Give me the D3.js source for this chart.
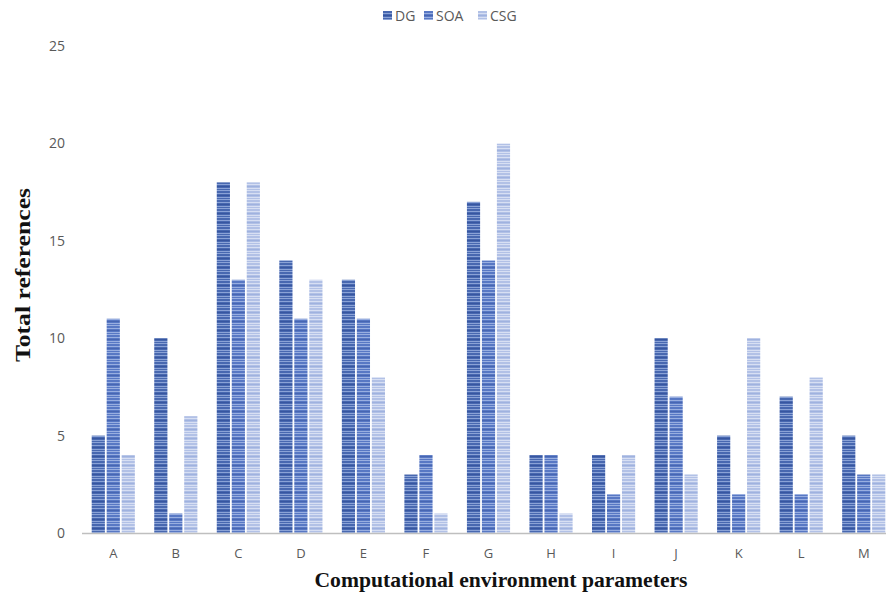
<!DOCTYPE html>
<html><head><meta charset="utf-8">
<script src="https://cdn.jsdelivr.net/npm/d3@7"></script>
<style>body{margin:0;background:#fff}svg{display:block}</style>
</head><body>
<script>
const categories = ["A","B","C","D","E","F","G","H","I","J","K","L","M"];
const seriesNames = ["DG","SOA","CSG"];
const DG  = [5,10,18,14,13,3,17,4,4,10,5,7,5];
const SOA = [11,1,13,11,11,4,14,4,2,7,2,2,3];
const CSG = [4,6,18,13,8,1,20,1,4,3,10,8,3];
const yTicks = [0,5,10,15,20,25];
const seriesValues = [DG, SOA, CSG];

const W = 886, H = 593;
const svg = d3.select("body").append("svg").attr("width", W).attr("height", H);

const colors = [
  {base:"#4868b0", light:"#8aa2d6", dark:"#3756a0"},
  {base:"#5878c4", light:"#98aee0", dark:"#4766b2"},
  {base:"#b2c1e6", light:"#d7dff3", dark:"#9fb2df"}
];
const defs = svg.append("defs");
colors.forEach((c,i)=>{
  const p = defs.append("pattern").attr("id","pat"+i).attr("patternUnits","userSpaceOnUse")
    .attr("width",20).attr("height",9);
  p.append("rect").attr("width",20).attr("height",9).attr("fill",c.base);
  p.append("rect").attr("y",1).attr("width",20).attr("height",1).attr("fill",c.light);
  p.append("rect").attr("y",4).attr("width",20).attr("height",1).attr("fill",c.light);
  p.append("rect").attr("y",6).attr("width",20).attr("height",1).attr("fill",c.dark);
  p.append("rect").attr("y",8).attr("width",20).attr("height",1).attr("fill",c.light);
});

const x = d3.scaleBand().domain(categories).range([82, 895]).paddingInner(0.31).paddingOuter(0.155);
const x1 = d3.scaleBand().domain(seriesNames).range([0, x.bandwidth()]).paddingInner(0.12);
const y = d3.scaleLinear().domain([0,25]).range([533, 46]);

// y tick labels
svg.append("g").selectAll("text").data(yTicks).join("text")
  .attr("x", 65).attr("y", d=>y(d)).attr("dy","0.35em").attr("text-anchor","end")
  .attr("font-family","'Open Sans', sans-serif").attr("font-size",14).attr("fill","#595959")
  .text(d=>d);

// bars
const g = svg.append("g");
categories.forEach((cat,ci)=>{
  seriesNames.forEach((s,si)=>{
    const v = seriesValues[si][ci];
    g.append("rect")
      .attr("x", x(cat)+x1(s)).attr("width", x1.bandwidth())
      .attr("y", y(v)).attr("height", y(0)-y(v))
      .attr("fill", "url(#pat"+si+")");
  });
});

// x axis line
svg.append("line").attr("x1",82).attr("x2",886).attr("y1",533.5).attr("y2",533.5)
  .attr("stroke","#bfbfbf").attr("stroke-width",1.5);

// x labels
svg.append("g").selectAll("text").data(categories).join("text")
  .attr("x", d=>x(d)+x.bandwidth()/2).attr("y", 553).attr("dy","0.35em").attr("text-anchor","middle")
  .attr("font-family","'Open Sans', sans-serif").attr("font-size",13).attr("fill","#595959")
  .text(d=>d);

// axis titles
svg.append("text").attr("x", 501).attr("y", 587).attr("text-anchor","middle")
  .attr("font-family","'Liberation Serif', 'Times New Roman', serif").attr("font-weight","bold")
  .attr("font-size",21).attr("textLength",373).attr("lengthAdjust","spacingAndGlyphs")
  .attr("fill","#111").text("Computational environment parameters");
svg.append("text").attr("transform","translate(30,275) rotate(-90)").attr("text-anchor","middle")
  .attr("font-family","'Liberation Serif', 'Times New Roman', serif").attr("font-weight","bold")
  .attr("font-size",21).attr("textLength",174).attr("lengthAdjust","spacingAndGlyphs")
  .attr("fill","#111").text("Total references");

// legend
const legX = [383, 424, 478];
const leg = svg.append("g");
seriesNames.forEach((s,i)=>{
  leg.append("rect").attr("x",legX[i]).attr("y",11).attr("width",9).attr("height",9).attr("fill","url(#pat"+i+")");
  leg.append("text").attr("x",legX[i]+12).attr("y",16).attr("dy","0.35em")
    .attr("font-family","'Open Sans', sans-serif").attr("font-size",14).attr("fill","#595959").text(s);
});
</script>
</body></html>
